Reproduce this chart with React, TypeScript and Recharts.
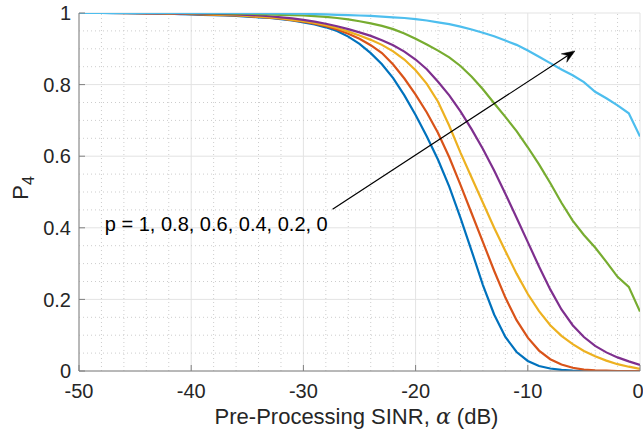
import React from 'react';
import { LineChart, Line, XAxis, YAxis, CartesianGrid, ReferenceLine, ReferenceDot } from 'recharts';

const alphaDb = [-50, -49, -48, -47, -46, -45, -44, -43, -42, -41, -40, -39, -38, -37, -36, -35, -34, -33, -32, -31, -30, -29, -28, -27, -26, -25, -24, -23, -22, -21, -20, -19, -18, -17, -16, -15, -14, -13, -12, -11, -10, -9, -8, -7, -6, -5, -4, -3, -2, -1, 0];

const pOne = [1, 1, 1, 0.9995, 0.9995, 0.999, 0.999, 0.998, 0.998, 0.997, 0.996, 0.995, 0.994, 0.993, 0.992, 0.99, 0.988, 0.986, 0.983, 0.979, 0.974, 0.968, 0.96, 0.95, 0.934, 0.914, 0.888, 0.857, 0.818, 0.77, 0.715, 0.655, 0.59, 0.515, 0.428, 0.335, 0.24, 0.158, 0.095, 0.053, 0.028, 0.014, 0.007, 0.003, 0.001, 0, 0, 0, 0, 0, 0];

const pPoint8 = [1, 1, 1, 1, 0.9995, 0.9995, 0.999, 0.999, 0.998, 0.998, 0.997, 0.996, 0.995, 0.994, 0.993, 0.991, 0.989, 0.987, 0.984, 0.98, 0.976, 0.97, 0.963, 0.954, 0.942, 0.928, 0.91, 0.888, 0.856, 0.817, 0.772, 0.722, 0.665, 0.597, 0.52, 0.44, 0.36, 0.28, 0.205, 0.142, 0.093, 0.057, 0.033, 0.018, 0.009, 0.004, 0.002, 0.001, 0, 0, 0];

const pPoint6 = [1, 1, 1, 1, 1, 1, 0.9995, 0.9995, 0.999, 0.999, 0.998, 0.997, 0.996, 0.995, 0.994, 0.992, 0.99, 0.988, 0.985, 0.981, 0.977, 0.972, 0.966, 0.958, 0.948, 0.937, 0.925, 0.911, 0.893, 0.87, 0.84, 0.802, 0.752, 0.685, 0.61, 0.54, 0.47, 0.4, 0.335, 0.272, 0.215, 0.167, 0.128, 0.098, 0.075, 0.056, 0.041, 0.029, 0.019, 0.012, 0.006];

const pPoint4 = [1, 1, 1, 1, 1, 1, 0.9995, 0.9995, 0.9995, 0.999, 0.999, 0.998, 0.998, 0.997, 0.996, 0.995, 0.993, 0.991, 0.988, 0.985, 0.981, 0.976, 0.97, 0.963, 0.955, 0.946, 0.936, 0.924, 0.91, 0.892, 0.87, 0.843, 0.808, 0.77, 0.725, 0.675, 0.62, 0.56, 0.495, 0.428, 0.36, 0.292, 0.228, 0.172, 0.128, 0.095, 0.07, 0.052, 0.038, 0.027, 0.017];

const pPoint2 = [1, 1, 1, 1, 1, 1, 1, 1, 1, 1, 0.9995, 0.9995, 0.999, 0.999, 0.998, 0.998, 0.997, 0.996, 0.995, 0.994, 0.993, 0.991, 0.989, 0.986, 0.982, 0.977, 0.971, 0.964, 0.955, 0.943, 0.928, 0.912, 0.895, 0.876, 0.852, 0.822, 0.787, 0.748, 0.71, 0.67, 0.625, 0.577, 0.525, 0.47, 0.42, 0.38, 0.345, 0.305, 0.263, 0.235, 0.166];

const pZero = [1, 1, 1, 1, 1, 1, 1, 1, 1, 1, 1, 1, 1, 1, 1, 0.9995, 0.9995, 0.999, 0.999, 0.998, 0.998, 0.997, 0.996, 0.995, 0.994, 0.993, 0.992, 0.99, 0.988, 0.986, 0.983, 0.979, 0.974, 0.969, 0.962, 0.954, 0.945, 0.935, 0.923, 0.911, 0.895, 0.878, 0.86, 0.842, 0.826, 0.807, 0.78, 0.762, 0.742, 0.72, 0.655];

const seriesKeys = ['p1', 'p08', 'p06', 'p04', 'p02', 'p0'];
const seriesColors = ['#0072BD', '#D95319', '#EDB120', '#7E2F8E', '#77AC30', '#4DBEEE'];

const xTicks = [-50, -40, -30, -20, -10, 0];
const yTicks = [0, 0.2, 0.4, 0.6, 0.8, 1];
const xMinor = [-48, -46, -44, -42, -38, -36, -34, -32, -28, -26, -24, -22, -18, -16, -14, -12, -8, -6, -4, -2];
const yMinor = [0.05, 0.1, 0.15, 0.25, 0.3, 0.35, 0.45, 0.5, 0.55, 0.65, 0.7, 0.75, 0.85, 0.9, 0.95];

const annotationText = 'p = 1, 0.8, 0.6, 0.4, 0.2, 0';
const annotationPos = { x: -47.7, y: 0.39 };
const arrowStart = { x: -27.4, y: 0.452 };
const arrowEnd = { x: -5.8, y: 0.894 };

const xLabel = 'Pre-Processing SINR, ';
const xLabelSymbol = 'α';
const xLabelUnit = ' (dB)';
const yLabelMain = 'P';
const yLabelSub = '4';

const data = alphaDb.map((a, i) => ({
  alpha: a,
  p1: pOne[i],
  p08: pPoint8[i],
  p06: pPoint6[i],
  p04: pPoint4[i],
  p02: pPoint2[i],
  p0: pZero[i],
}));

const FONT = "'Liberation Sans', Arial, Helvetica, sans-serif";
const TEXT_COLOR = '#262626';
const AXIS_COLOR = '#808080';

const ArrowShape = (props: any) => {
  const { x1, y1, x2, y2 } = props;
  const dx = x2 - x1;
  const dy = y2 - y1;
  const len = Math.sqrt(dx * dx + dy * dy) || 1;
  const ux = dx / len;
  const uy = dy / len;
  const px = -uy;
  const py = ux;
  const L = 13;
  const W = 5;
  const notch = 0.65 * L;
  const bx = x2 - ux * L;
  const by = y2 - uy * L;
  const nx = x2 - ux * notch;
  const ny = y2 - uy * notch;
  const pts = [
    [x2, y2],
    [bx + px * W, by + py * W],
    [nx, ny],
    [bx - px * W, by - py * W],
  ]
    .map((p) => p.join(','))
    .join(' ');
  return (
    <g>
      <line x1={x1} y1={y1} x2={nx} y2={ny} stroke="#000" strokeWidth={1.2} />
      <polygon points={pts} fill="#000" stroke="#000" strokeWidth={0.5} />
    </g>
  );
};

const AnnotationShape = (props: any) => {
  const { cx, cy } = props;
  return (
    <text x={cx} y={cy} fontFamily={FONT} fontSize={20} fill="#000">
      {annotationText}
    </text>
  );
};

const XLabelContent = (props: any) => {
  const vb = props.viewBox || {};
  const cx = vb.x + vb.width / 2 - 3;
  const y = vb.y + 53;
  return (
    <text x={cx} y={y} textAnchor="middle" fontFamily={FONT} fontSize={22} fill={TEXT_COLOR}>
      {xLabel}
      <tspan fontFamily="'DejaVu Serif', 'Liberation Serif', serif" fontStyle="italic">
        {xLabelSymbol}
      </tspan>
      {xLabelUnit}
    </text>
  );
};

const YLabelContent = (props: any) => {
  const vb = props.viewBox || {};
  const x = vb.x + 28;
  const y = vb.y + vb.height / 2 - 4;
  return (
    <text
      x={x}
      y={y}
      textAnchor="middle"
      fontFamily={FONT}
      fontSize={22}
      fill={TEXT_COLOR}
      transform={`rotate(-90, ${x}, ${y})`}
    >
      {yLabelMain}
      <tspan fontSize={16} dy={6}>
        {yLabelSub}
      </tspan>
    </text>
  );
};

export default function App() {
  return (
    <div style={{ position: 'absolute', left: 0, top: 0, background: '#fff' }}>
      <LineChart
        width={643}
        height={432}
        data={data}
        margin={{ top: 13, right: 3, left: 0, bottom: 0 }}
      >
        <CartesianGrid stroke="#e3e3e3" strokeWidth={1} />
        {xMinor.map((v) => (
          <ReferenceLine key={`xm${v}`} x={v} stroke="#cdcdcd" strokeDasharray="1 3" strokeWidth={1} />
        ))}
        {yMinor.map((v) => (
          <ReferenceLine key={`ym${v}`} y={v} stroke="#cdcdcd" strokeDasharray="1 3" strokeWidth={1} />
        ))}
        <XAxis
          dataKey="alpha"
          type="number"
          domain={[-50, 0]}
          ticks={xTicks}
          allowDataOverflow
          height={61}
          tickSize={-6}
          tickMargin={19}
          stroke={AXIS_COLOR}
          tick={{ fill: TEXT_COLOR, fontSize: 20, fontFamily: FONT }}
          label={<XLabelContent />}
        />
        <XAxis
          xAxisId="top"
          orientation="top"
          type="number"
          domain={[-50, 0]}
          ticks={xTicks}
          allowDataOverflow
          height={0}
          tickSize={-6}
          tick={false}
          stroke={AXIS_COLOR}
        />
        <YAxis
          type="number"
          domain={[0, 1]}
          ticks={yTicks}
          allowDataOverflow
          width={79}
          tickSize={-6}
          tickMargin={14}
          stroke={AXIS_COLOR}
          tick={{ fill: TEXT_COLOR, fontSize: 20, fontFamily: FONT }}
          label={<YLabelContent />}
        />
        <YAxis
          yAxisId="right"
          orientation="right"
          type="number"
          domain={[0, 1]}
          ticks={yTicks}
          allowDataOverflow
          width={0}
          tickSize={-6}
          tick={false}
          stroke={AXIS_COLOR}
        />
        {seriesKeys.map((k, i) => (
          <Line
            key={k}
            dataKey={k}
            type="linear"
            stroke={seriesColors[i]}
            strokeWidth={2.2}
            dot={false}
            isAnimationActive={false}
          />
        ))}
        <ReferenceLine
          segment={[arrowStart, arrowEnd]}
          stroke="#000"
          shape={(p: any) => <ArrowShape {...p} />}
        />
        <ReferenceDot
          x={annotationPos.x}
          y={annotationPos.y}
          r={0}
          shape={(p: any) => <AnnotationShape {...p} />}
        />
      </LineChart>
    </div>
  );
}
